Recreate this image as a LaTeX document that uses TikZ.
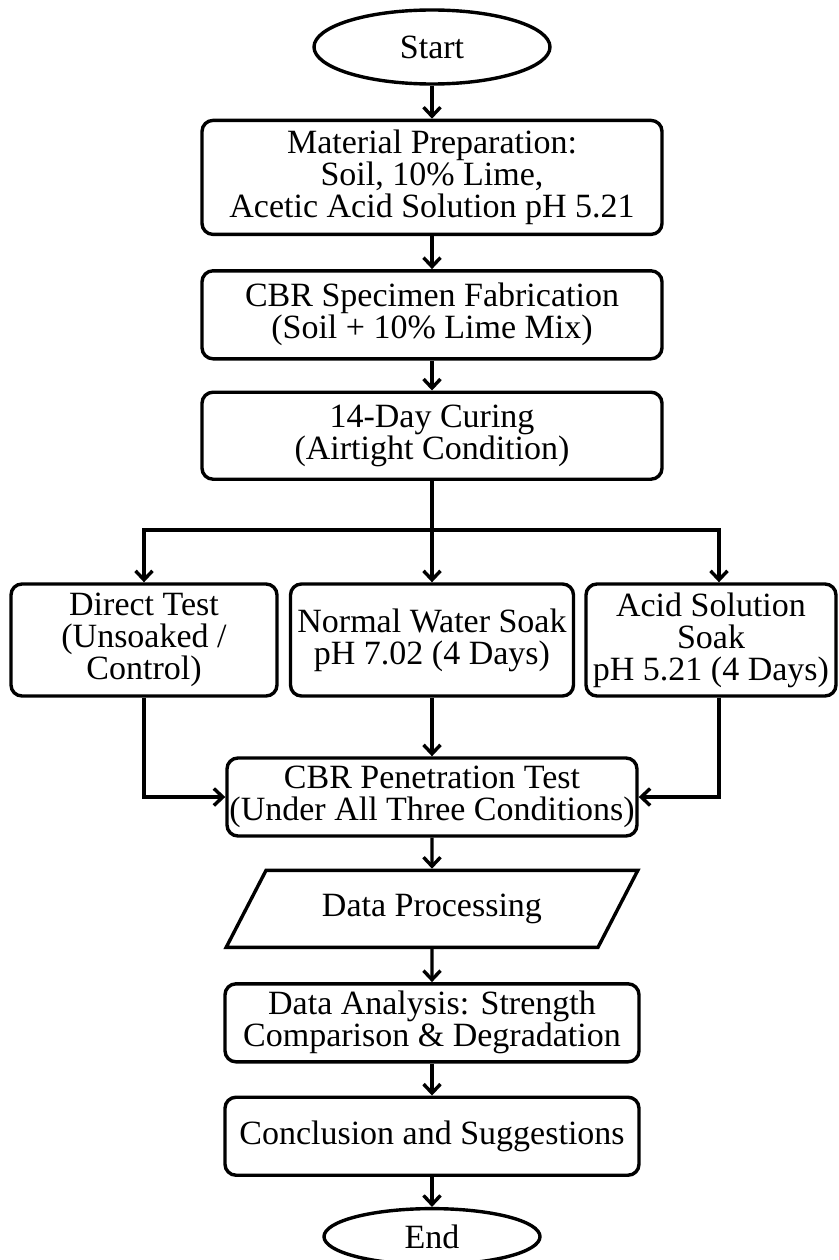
\documentclass[tikz,border=0pt]{standalone}
\usepackage{fontspec}
\setmainfont{Liberation Serif}
\usepackage{tikz}
\usetikzlibrary{arrows.meta,positioning,shapes.geometric}

\begin{document}
\begin{tikzpicture}[x=1pt,y=1pt,>={Straight Barb[length=9pt,width=17pt]},
		every node/.style={font=\fontsize{34}{32}\selectfont},
		box/.style={draw,line width=3.4pt,rounded corners=11pt,align=center,inner sep=2pt},
		term/.style={draw,ellipse,line width=3.4pt,inner sep=0pt},
		iobox/.style={draw,trapezium,trapezium left angle=48.5,trapezium right angle=131.5,
			trapezium stretches=true,line width=3.4pt,inner sep=0pt},
		link/.style={line width=3.4pt}]
		\useasboundingbox (0,0) rectangle (838,-1260);

		\node[term,minimum width=236pt,minimum height=74pt] (start) at (432,-47) {Start};
		\node[box,minimum width=460pt,minimum height=114pt] (prep) [below=33pt of start]
			{Material Preparation:\\Soil, 10\% Lime,\\Acetic Acid Solution pH 5.21};
		\node[box,minimum width=460pt,minimum height=88pt] (fab) [below=33pt of prep]
			{CBR Specimen Fabrication\\(Soil + 10\% Lime Mix)};
		\node[box,minimum width=460pt,minimum height=87pt] (cure) [below=30pt of fab]
			{14-Day Curing\\(Airtight Condition)};

		\node[box,minimum width=266pt,minimum height=112pt] (direct) at (144,-640)
			{Direct Test\\(Unsoaked /\\Control)};
		\node[box,minimum width=283pt,minimum height=112pt] (water) at (432,-640)
			{Normal Water Soak\\pH 7.02 (4 Days)};
		\node[box,minimum width=250pt,minimum height=112pt] (acid) at (711,-640)
			{Acid Solution\\Soak\\pH 5.21 (4 Days)};

		\node[box,minimum width=410pt,minimum height=78pt] (pen) at (432,-797)
			{CBR Penetration Test\\(Under All Three Conditions)};
		\node[iobox,minimum width=412pt,minimum height=77pt] (dp) [below=31pt of pen] {Data Processing};
		\node[box,minimum width=414pt,minimum height=78pt] (ana) [below=33pt of dp]
			{Data Analysis: Strength\\Comparison \& Degradation};
		\node[box,minimum width=414pt,minimum height=78pt] (concl) [below=32pt of ana]
			{Conclusion and Suggestions};
		\node[term,minimum width=216pt,minimum height=56pt] (end) [below=30pt of concl] {End};

		\coordinate (split) at (432,-530);

		\path[->,link]
		(start) edge (prep)
		(prep) edge (fab)
		(fab) edge (cure)
		(split) edge (water)
		(water) edge (pen)
		(pen) edge (dp)
		(dp) edge (ana)
		(ana) edge (concl)
		(concl) edge (end)
		;
		\draw[link] (cure) -- (split);
		\draw[->,link] (split) -| (direct.north);
		\draw[->,link] (split) -| ([xshift=8pt]acid.north);
		\draw[->,link] (direct) |- (pen);
		\draw[->,link] ([xshift=8pt]acid.south) |- (pen);
	\end{tikzpicture}
\end{document}
